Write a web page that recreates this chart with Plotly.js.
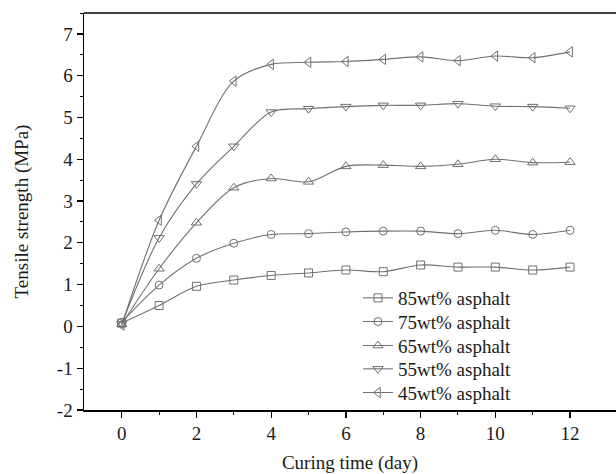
<!DOCTYPE html>
<html>
<head>
<meta charset="utf-8">
<script src="https://cdn.plot.ly/plotly-3.0.1.min.js"></script>
<style>html,body{margin:0;padding:0;background:#fff;}#chart{width:616px;height:474px;}</style>
</head>
<body>
<div id="chart"></div>
<script>
const days = [0,1,2,3,4,5,6,7,8,9,10,11,12];
const seriesNames = ["85wt% asphalt","75wt% asphalt","65wt% asphalt","55wt% asphalt","45wt% asphalt"];
const asphalt85 = [0.08,0.50,0.96,1.11,1.22,1.28,1.35,1.31,1.47,1.42,1.42,1.35,1.42];
const asphalt75 = [0.10,0.99,1.63,1.99,2.20,2.22,2.26,2.28,2.28,2.22,2.30,2.20,2.30];
const asphalt65 = [0.05,1.38,2.48,3.32,3.54,3.46,3.83,3.86,3.83,3.88,4.00,3.92,3.93];
const asphalt55 = [0.06,2.12,3.41,4.31,5.13,5.21,5.26,5.29,5.29,5.33,5.27,5.26,5.22];
const asphalt45 = [0.03,2.54,4.31,5.87,6.27,6.32,6.34,6.39,6.45,6.36,6.47,6.43,6.57];
const symbols = ["square-open","circle-open","triangle-up-open","triangle-down-open","triangle-left-open"];
const yTickVals = [-2,-1,0,1,2,3,4,5,6,7];
const yTickText = ["-2","-1","0","1","2","3","4","5","6","7"];
const xTickVals = [0,2,4,6,8,10,12];
const allSeries = [asphalt85, asphalt75, asphalt65, asphalt55, asphalt45];

const legendIds = ["legend","legend2","legend3","legend4","legend5"];
const legendY = [0.2821, 0.2224, 0.162, 0.1033, 0.0436];

const traces = allSeries.map((ys, i) => ({
  x: days, y: ys, name: seriesNames[i], type: "scatter", mode: "lines+markers",
  legend: legendIds[i],
  line: {color: "#707070", width: 1.1, shape: "spline", smoothing: 0.9},
  marker: {symbol: symbols[i], size: i >= 2 ? 9 : 8, color: "#707070", line: {width: 1, color: "#707070"}}
}));

const font = {family: "Liberation Serif, Times New Roman, serif", size: 19, color: "#1a1a1a"};
const layout = {
  width: 616, height: 474,
  margin: {l: 84, r: 0, t: 13, b: 64},
  paper_bgcolor: "#fff", plot_bgcolor: "#fff",
  font: font,
  showlegend: true,
  xaxis: {
    range: [-1.01, 13.23], tickvals: xTickVals, showgrid: false, zeroline: false,
    showline: true, linecolor: "#000", linewidth: 1.5, mirror: false,
    ticks: "outside", ticklen: 6, tickwidth: 1.3, tickcolor: "#000",
    minor: {tickvals: [1,3,5,7,9,11], ticks: "outside", ticklen: 3, tickwidth: 1, tickcolor: "#000"},
    tickfont: font,
    title: {text: "Curing time (day)", font: font, standoff: 12}
  },
  yaxis: {
    range: [-2, 7.5], tickvals: yTickVals, ticktext: yTickText, showgrid: false, zeroline: false,
    showline: true, linecolor: "#000", linewidth: 1.5,
    ticks: "outside", ticklen: 6, tickwidth: 1.3, tickcolor: "#000",
    minor: {dtick: 0.5, ticks: "outside", ticklen: 3, tickwidth: 1, tickcolor: "#000"},
    tickfont: font,
    title: {text: "Tensile strength (MPa)", font: font, standoff: 23}
  },
  shapes: [{type: "line", xref: "paper", yref: "paper", x0: 0, x1: 1, y0: 1, y1: 1, line: {color: "#000", width: 1.5}}]
};
legendIds.forEach((id, i) => {
  layout[id] = {x: 0.515, y: legendY[i], xanchor: "left", yanchor: "middle", bgcolor: "rgba(0,0,0,0)",
                borderwidth: 0, font: font};
});
Plotly.newPlot("chart", traces, layout, {displayModeBar: false, staticPlot: true});
</script>
</body>
</html>
